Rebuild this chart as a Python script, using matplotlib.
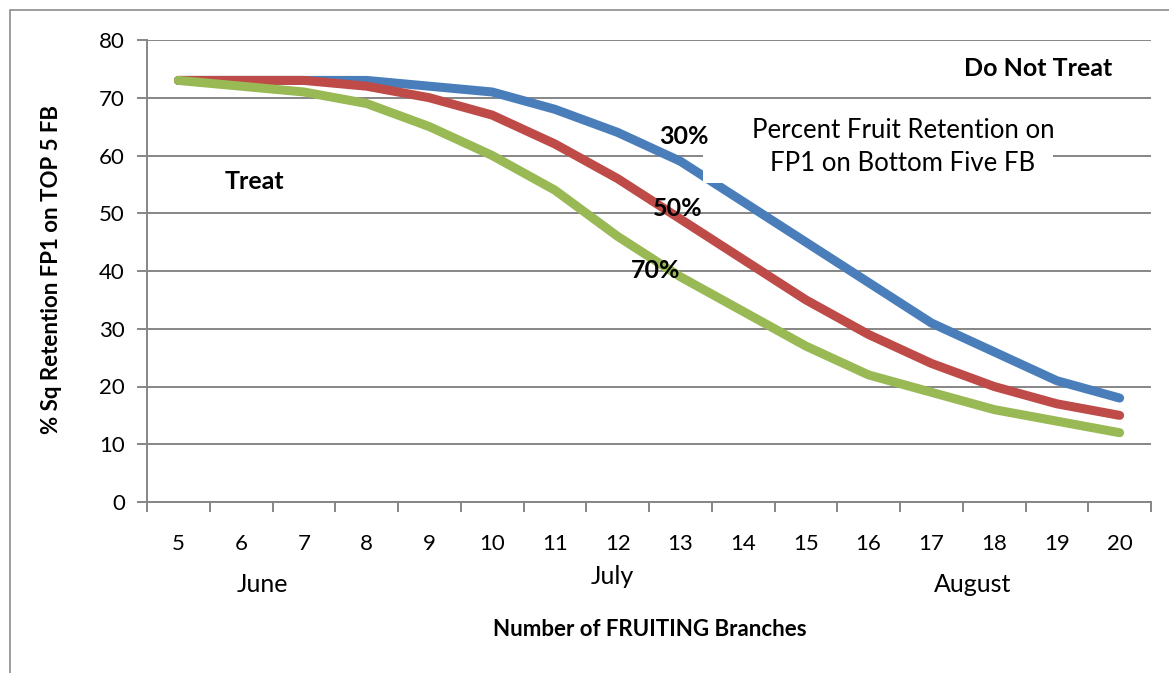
import matplotlib.pyplot as plt
from matplotlib.patches import Rectangle

plt.rcParams['font.family'] = ['Lato', 'DejaVu Sans']

# Data
branches = [5, 6, 7, 8, 9, 10, 11, 12, 13, 14, 15, 16, 17, 18, 19, 20]
ret_30 = [73, 73, 73, 73, 72, 71, 68, 64, 59, 52, 45, 38, 31, 26, 21, 18]
ret_50 = [73, 73, 73, 72, 70, 67, 62, 56, 49, 42, 35, 29, 24, 20, 17, 15]
ret_70 = [73, 72, 71, 69, 65, 60, 54, 46, 39, 33, 27, 22, 19, 16, 14, 12]
series_labels = ['30%', '50%', '70%']
months = ['June', 'July', 'August']

W, H = 1169, 673
fig = plt.figure(figsize=(11.69, 6.73), dpi=100)
ax = fig.add_axes([147 / W, 1 - 502 / H, 1004 / W, 462 / H])


def px(xp, yp):
    # pixel position -> figure fraction
    return xp / W, 1 - yp / H


# outer chart border
fig.patches.append(Rectangle((10 / W, -0.05), 1.2, 1 - 10 / H + 0.05,
                             transform=fig.transFigure, fill=False,
                             edgecolor='#8c8c8c', linewidth=1.2))

x = list(range(len(branches)))
lw = 6.5
ax.plot(x, ret_30, color='#4A7EBB', lw=lw, solid_capstyle='round', solid_joinstyle='round', zorder=3)
ax.plot(x, ret_50, color='#BE4B48', lw=lw, solid_capstyle='round', solid_joinstyle='round', zorder=4)
ax.plot(x, ret_70, color='#98B954', lw=lw, solid_capstyle='round', solid_joinstyle='round', zorder=5)

ax.set_xlim(-0.5, len(branches) - 0.5)
ax.set_ylim(0, 80)
ax.set_yticks(range(0, 81, 10))
ax.yaxis.grid(True, color='#868686', lw=1.4)
ax.set_axisbelow(True)
ax.tick_params(axis='y', labelsize=16, length=7, width=1.4, color='#868686', pad=9)

ax.set_xticks(x)
ax.set_xticklabels([str(b) for b in branches])
ax.set_xticks([i - 0.5 for i in range(len(branches) + 1)], minor=True)
ax.tick_params(axis='x', which='major', length=0, labelsize=16, pad=23)
ax.tick_params(axis='x', which='minor', length=7, width=1.4, color='#868686')

for side in ['top', 'right']:
    ax.spines[side].set_visible(False)
for side in ['left', 'bottom']:
    ax.spines[side].set_color('#868686')
    ax.spines[side].set_linewidth(1.4)

ax.set_ylabel('% Sq Retention FP1 on TOP 5 FB', fontsize=16, fontweight='bold')
ax.yaxis.set_label_coords((62 - 147) / 1004, (502 - 270) / 462)

# month labels and x title
fig.text(*px(262, 584), months[0], fontsize=18, ha='center', va='center')
fig.text(*px(612, 577), months[1], fontsize=18, ha='center', va='center')
fig.text(*px(973, 584), months[2], fontsize=18, ha='center', va='center')
fig.text(*px(650, 630), 'Number of FRUITING Branches', fontsize=16,
         fontweight='bold', ha='center', va='center')

# white text box that hides the gridline and part of the 30% line
fig.patches.append(Rectangle(px(703, 183), 350 / W, 78 / H, transform=fig.transFigure,
                             facecolor='white', edgecolor='none', zorder=2))
fig.text(*px(903, 147), 'Percent Fruit Retention on\nFP1 on Bottom Five FB',
         fontsize=18.5, ha='center', va='center', linespacing=1.4, zorder=8)

# annotations
fig.text(*px(254, 182), 'Treat', fontsize=18, fontweight='bold', ha='center', va='center')
fig.text(*px(1038, 69), 'Do Not Treat', fontsize=18, fontweight='bold', ha='center', va='center')
fig.text(*px(684, 136), series_labels[0], fontsize=18, fontweight='bold', ha='center', va='center', zorder=10)
fig.text(*px(678, 208), series_labels[1], fontsize=18, fontweight='bold', ha='center', va='center', zorder=10)
fig.text(*px(656, 270), series_labels[2], fontsize=18, fontweight='bold', ha='center', va='center', zorder=10)

fig.savefig('out.png', dpi=100)
